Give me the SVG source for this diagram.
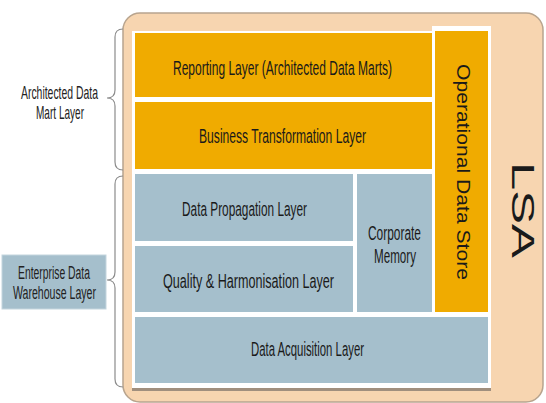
<svg xmlns="http://www.w3.org/2000/svg" width="546" height="403" viewBox="0 0 546 403">
<style>
.o{fill:#f0ab00}
.b{fill:#a5bfcc}
.t{font-family:"Liberation Sans",Arial,sans-serif;font-size:20.5px;fill:#1a1a1a;text-anchor:middle}
.l{font-family:"Liberation Sans",Arial,sans-serif;font-size:19px;fill:#222;text-anchor:middle}
.br{fill:none;stroke:#8c8c8c;stroke-width:1.2}
</style>
<rect width="546" height="403" fill="#ffffff"/>
<g id="lsa-frame">
<rect x="123" y="13" width="420" height="389" rx="17" fill="#f7d5b0" stroke="#b8a48e" stroke-width="1.5"/>
<path d="M132 31 H432 V26 H491 V389 H132 Z" fill="#ffffff"/>
<rect x="132" y="388" width="359" height="3" fill="#a08f7e"/>
<text class="t" transform="translate(512,210) rotate(90)" style="font-size:32px" textLength="96" lengthAdjust="spacingAndGlyphs">LSA</text>
</g>
<g id="reporting">
<rect class="o" x="135" y="33" width="297" height="64"/>
<text class="t" x="282.5" y="75" textLength="219" lengthAdjust="spacingAndGlyphs">Reporting Layer (Architected Data Marts)</text>
</g>
<g id="business">
<rect class="o" x="135" y="102" width="297" height="67"/>
<text class="t" x="282.5" y="143" textLength="167" lengthAdjust="spacingAndGlyphs">Business Transformation Layer</text>
</g>
<g id="ods">
<rect class="o" x="435" y="31" width="53" height="281"/>
<text class="t" transform="translate(457,172) rotate(90)" style="font-size:18px" textLength="216" lengthAdjust="spacingAndGlyphs">Operational Data Store</text>
</g>
<g id="propagation">
<rect class="b" x="135" y="174" width="218" height="67"/>
<text class="t" x="244.5" y="216" textLength="125" lengthAdjust="spacingAndGlyphs">Data Propagation Layer</text>
</g>
<g id="quality">
<rect class="b" x="135" y="246" width="218" height="66"/>
<text class="t" x="248.5" y="288" textLength="171" lengthAdjust="spacingAndGlyphs">Quality &amp; Harmonisation Layer</text>
</g>
<g id="corporate">
<rect class="b" x="357" y="174" width="75" height="138"/>
<text class="t" x="394.5" y="240" textLength="53" lengthAdjust="spacingAndGlyphs">Corporate</text>
<text class="t" x="395" y="263" textLength="42" lengthAdjust="spacingAndGlyphs">Memory</text>
</g>
<g id="acquisition">
<rect class="b" x="135" y="317" width="353" height="66"/>
<text class="t" x="307.5" y="356" textLength="113" lengthAdjust="spacingAndGlyphs">Data Acquisition Layer</text>
</g>
<g id="adm-label">
<text class="l" x="59.5" y="99" textLength="77" lengthAdjust="spacingAndGlyphs">Architected Data</text>
<text class="l" x="60" y="119" textLength="48" lengthAdjust="spacingAndGlyphs">Mart Layer</text>
</g>
<g id="edw-label">
<rect x="2" y="255" width="104" height="54" fill="#a5bfcc" stroke="#c4d5de" stroke-width="1"/>
<text class="l" x="54" y="279" style="font-size:18px" textLength="72" lengthAdjust="spacingAndGlyphs">Enterprise Data</text>
<text class="l" x="54.5" y="299" style="font-size:18px" textLength="83" lengthAdjust="spacingAndGlyphs">Warehouse Layer</text>
</g>
<g id="connectors">
<path class="br" d="M123 29 Q115 29 115 37 V90 Q115 98 107 98 Q115 98 115 106 V162 Q115 170 123 170"/>
<path class="br" d="M123 176 Q115 176 115 184 V272 Q115 280 107 280 Q115 280 115 288 V379 Q115 387 123 387"/>
</g>
</svg>
